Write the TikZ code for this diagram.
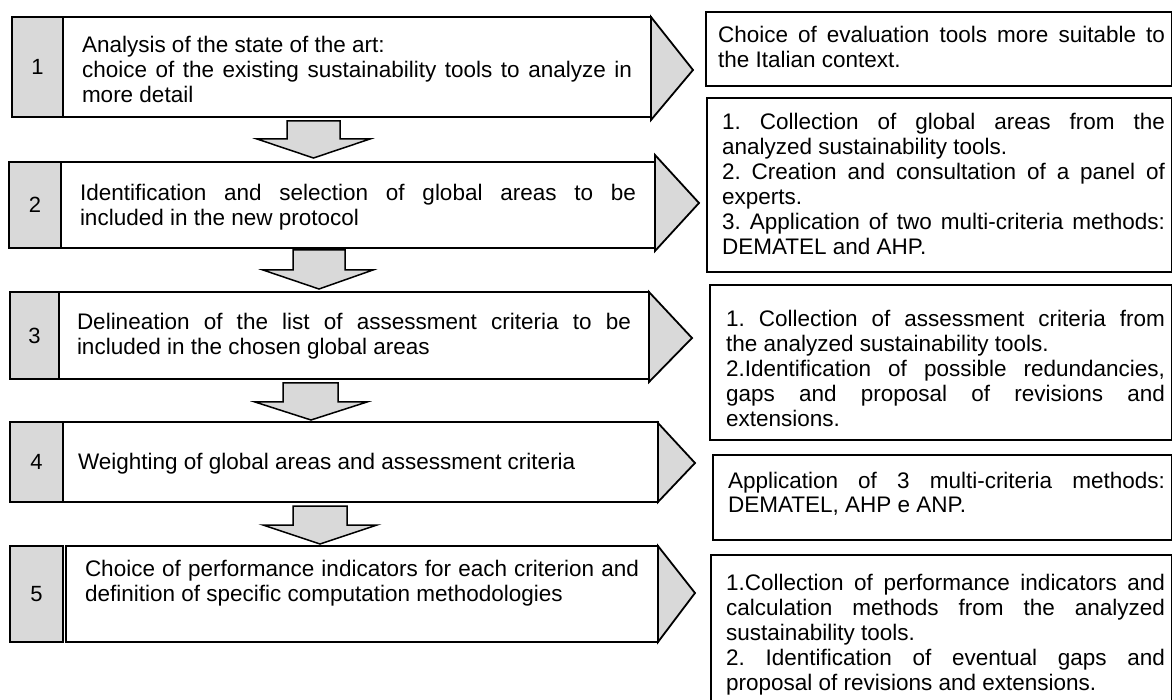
\documentclass[tikz,border=0pt]{standalone}
\usepackage{fontspec}
\setmainfont{Liberation Sans}
\definecolor{cellgrey}{HTML}{D9D9D9}
% #1 height, #2 width, #3 first baseline offset, #4 text
\newcommand{\bx}[4]{\parbox[c][#1pt][t]{#2pt}{\fontsize{22.5}{25}\selectfont\frenchspacing\rule{0pt}{#3pt}#4}}
\begin{document}
\begin{tikzpicture}[x=1pt,y=-1pt,
  frame/.style={draw=black, line width=1.8pt, inner sep=0pt, outer sep=0pt, fill=white},
  numcell/.style={draw=black, line width=1.8pt, fill=cellgrey, inner sep=0pt, outer sep=0pt,
    font=\fontsize{22}{25}\selectfont},
  rbox/.style={draw=black, line width=1.4pt, inner sep=0pt, outer sep=0pt},
  tri/.style={draw=black, line width=1.8pt, fill=cellgrey, line join=miter},
  darrow/.style={draw=black, line width=1.5pt, fill=cellgrey, line join=miter}]
\useasboundingbox (0,0) rectangle (1173,700);
\fill[white] (0,0) rectangle (1173,700);

% triangles (pointing right)
\draw[tri] (651,17) -- (693,70) -- (651,120) -- cycle;
\draw[tri] (655,155) -- (699,203) -- (655,251) -- cycle;
\draw[tri] (649,292) -- (692,338) -- (649,382) -- cycle;
\draw[tri] (658,423) -- (695,463) -- (658,502) -- cycle;
\draw[tri] (658,546) -- (695,593) -- (658,642) -- cycle;

% number cells
\node[numcell, minimum width=51pt, minimum height=100pt, anchor=north west] (n1) at (12,17) {1};
\node[numcell, minimum width=52pt, minimum height=86pt, anchor=north west] (n2) at (9,162) {2};
\node[numcell, minimum width=49pt, minimum height=87pt, anchor=north west] (n3) at (10,292) {3};
\node[numcell, minimum width=53pt, minimum height=80pt, anchor=north west] (n4) at (10,422) {4};
\node[numcell, minimum width=53pt, minimum height=96pt, anchor=north west] (n5) at (10,546) {5};

% step boxes
\node[frame, anchor=north west] (b1) at (63,17)
  {\hspace*{19pt}\bx{100}{550}{36}{Analysis of the state of the art:\\
   choice of the existing sustainability tools to analyze in\linebreak more detail}\hspace*{19pt}};
\node[frame, anchor=north west] (b2) at (61,162)
  {\hspace*{19pt}\bx{86}{556}{39}{Identification and selection of global areas to be\linebreak
   included in the new protocol}\hspace*{19pt}};
\node[frame, anchor=north west] (b3) at (59,292)
  {\hspace*{18pt}\bx{87}{554}{38}{Delineation of the list of assessment criteria to be\linebreak
   included in the chosen global areas}\hspace*{18pt}};
\node[frame, anchor=north west] (b4) at (63,422)
  {\hspace*{15pt}\bx{80}{565}{48}{Weighting of global areas and assessment criteria}\hspace*{15pt}};
\node[frame, anchor=north west] (b5) at (66,546)
  {\hspace*{19pt}\bx{96}{554}{30}{Choice of performance indicators for each criterion and\linebreak
   definition of specific computation methodologies}\hspace*{19pt}};

% down arrows
\draw[darrow] (287,121) -- (340,121) -- (340,139) -- (370,139) -- (313.5,158) -- (257,139) -- (287,139) -- cycle;
\draw[darrow] (293,250) -- (345,250) -- (345,270) -- (373,270) -- (319,289) -- (263,270) -- (293,270) -- cycle;
\draw[darrow] (283,383) -- (338,383) -- (338,402) -- (367,402) -- (311,420) -- (255,402) -- (283,402) -- cycle;
\draw[darrow] (293,506) -- (347,506) -- (347,525) -- (377,525) -- (320,544) -- (263,525) -- (293,525) -- cycle;

% right boxes
\node[rbox, anchor=north west] (r1) at (706,12)
  {\hspace*{12pt}\bx{74}{447}{31}{Choice of evaluation tools more suitable to\linebreak the Italian context.}\hspace*{6.5pt}};
\node[rbox, anchor=north west] (r2) at (707,98)
  {\hspace*{15pt}\bx{174}{443}{32}{1. Collection of global areas from the\linebreak
   analyzed sustainability tools.\\
   2. Creation and consultation of a panel of\linebreak experts.\\
   3. Application of two multi-criteria methods:\linebreak DEMATEL and AHP.}\hspace*{6.5pt}};
\node[rbox, anchor=north west] (r3) at (710,285)
  {\hspace*{16pt}\bx{155}{439}{42}{1. Collection of assessment criteria from\linebreak
   the analyzed sustainability tools.\\
   2.Identification of possible redundancies,\linebreak
   gaps and proposal of revisions and\linebreak extensions.}\hspace*{6.5pt}};
\node[rbox, anchor=north west] (r4) at (713,455)
  {\hspace*{15pt}\bx{85}{437}{33}{Application of 3 multi-criteria methods:\linebreak
   DEMATEL, AHP e ANP.}\hspace*{6.5pt}};
\node[rbox, anchor=north west] (r5) at (711,555)
  {\hspace*{15pt}\bx{146}{439}{35}{1.Collection of performance indicators and\linebreak
   calculation methods from the analyzed\linebreak
   sustainability tools.\\
   2. Identification of eventual gaps and\linebreak
   proposal of revisions and extensions.}\hspace*{6.5pt}};
\end{tikzpicture}
\end{document}
